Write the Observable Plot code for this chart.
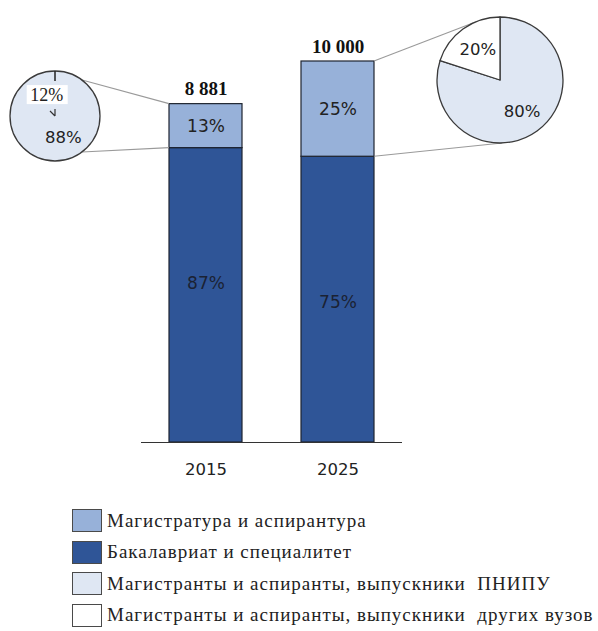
<!DOCTYPE html>
<html>
<head>
<meta charset="utf-8">
<script src="https://cdn.jsdelivr.net/npm/d3@7"></script>
<script src="https://cdn.jsdelivr.net/npm/@observablehq/plot@0.6"></script>
<style>
  body { margin: 0; background: #fff; }
  #chart svg { display: block; overflow: visible; }
  #legend { padding-top: 10px; }
  .row { display: flex; align-items: center; height: 31.5px; margin-left: 72px; }
  .sw { width: 30px; height: 23px; border: 1.5px solid #4a4a4a; box-sizing: border-box; margin-right: 5px; flex: none; }
  .lbl { font-family: "Liberation Serif", serif; font-size: 19px; letter-spacing: 1px; white-space: pre; color: #222; }
</style>
</head>
<body>
<div id="chart"></div>
<div id="legend"></div>
<script>
// ---- data ----
const years = ["2015", "2025"];
const totals = [8881, 10000];
const totalLabels = ["8 881", "10 000"];
const bachelorShare = [87, 75];
const masterShare = [13, 25];
const ownGradShare = [88, 80];     // выпускники ПНИПУ (pie)
const otherGradShare = [12, 20];   // выпускники других вузов (pie)
const parts = ["Бакалавриат и специалитет", "Магистратура и аспирантура"];
const legendLabels = [
  "Магистратура и аспирантура",
  "Бакалавриат и специалитет",
  "Магистранты и аспиранты, выпускники  ПНИПУ",
  "Магистранты и аспиранты, выпускники  других вузов"
];
const legendColors = ["#97b1d9", "#2f5597", "#dfe7f3", "#ffffff"];

const partColors = ["#2f5597", "#97b1d9"];
const pieColors = ["#dfe7f3", "#ffffff"];

const rows = years.flatMap((yr, i) => [
  {year: yr, part: parts[0], share: bachelorShare[i], value: totals[i] * bachelorShare[i] / 100},
  {year: yr, part: parts[1], share: masterShare[i], value: totals[i] * masterShare[i] / 100}
]);
const totalRows = years.map((yr, i) => ({year: yr, total: totals[i], label: totalLabels[i]}));

const sans = "DejaVu Sans, sans-serif";
const serif = "Liberation Serif, serif";

const plot = Plot.plot({
  width: 598,
  height: 495,
  marginTop: 61,
  marginBottom: 53,
  marginLeft: 141,
  marginRight: 196,
  style: {background: "#fff", color: "#222"},
  x: {type: "band", domain: years, paddingInner: 0.447, paddingOuter: 0.212, label: null},
  y: {domain: [0, 10000], axis: null},
  color: {domain: parts, range: partColors},
  marks: [
    Plot.barY(rows, {x: "year", y: "value", fill: "part", stroke: "#1e2430", strokeWidth: 1.2, inset: 0}),
    Plot.ruleY([0], {stroke: "#333", strokeWidth: 1.2}),
    Plot.axisX({tickSize: 0, tickPadding: 21, fontSize: 16.5, fontFamily: sans, label: null}),
    // upper segment labels
    Plot.text(rows, Plot.stackY({x: "year", y: "value", text: d => d.part === parts[1] ? d.share + "%" : "",
      fontSize: 17, fontFamily: sans, fill: "#222"})),
    // lower segment labels
    Plot.text(rows.filter(d => d.year === years[0]), Plot.stackY({x: "year", y: "value",
      text: d => d.part === parts[0] ? d.share + "%" : "", dy: -12, fontSize: 17, fontFamily: sans, fill: "#1b2233"})),
    Plot.text(rows.filter(d => d.year === years[1]), Plot.stackY({x: "year", y: "value",
      text: d => d.part === parts[0] ? d.share + "%" : "", dy: 3, fontSize: 17, fontFamily: sans, fill: "#1b2233"})),
    // totals
    Plot.text(totalRows, {x: "year", y: "total", text: "label", dy: -15, fontSize: 19, fontWeight: "bold", fontFamily: serif, fill: "#111"})
  ]
});
document.getElementById("chart").appendChild(plot);

// ---- pies (d3.pie / d3.arc) and connectors via Plot scales ----
const xs = plot.scale("x"), ys = plot.scale("y");
const bw = xs.bandwidth;
const svg = d3.select(plot);

const pieLayout = [
  {cx: 55, cy: 116, r: 45, labelR: 0.5, angTop: 37, angBot: 143, side: "left", showOther: false},
  {cx: 500, cy: 80, r: 63, labelR: 0.6, angTop: -21, angBot: 178, side: "right", showOther: true}
];

years.forEach((yr, i) => {
  const L = pieLayout[i];
  const xLeft = xs.apply(yr), xRight = xLeft + bw;
  const barX = L.side === "left" ? xLeft : xRight;
  const yTop = ys.apply(totals[i]);
  const ySplit = ys.apply(totals[i] * bachelorShare[i] / 100);
  const rad = a => a * Math.PI / 180;
  const pt = a => [L.cx + L.r * Math.sin(rad(a)), L.cy - L.r * Math.cos(rad(a))];
  const g = svg.append("g");
  // connectors
  [[pt(L.angTop), yTop], [pt(L.angBot), ySplit]].forEach(([p, yb]) => {
    g.append("line").attr("x1", p[0]).attr("y1", p[1]).attr("x2", barX).attr("y2", yb)
      .attr("stroke", "#9a9a9a").attr("stroke-width", 1.1);
  });
  const vals = [ownGradShare[i], otherGradShare[i]];
  const arcs = d3.pie().sort(null)(vals);
  const arc = d3.arc().innerRadius(0).outerRadius(L.r);
  const labelArc = d3.arc().innerRadius(L.r * L.labelR * 2 - 0.001).outerRadius(0);
  const pg = g.append("g").attr("transform", `translate(${L.cx},${L.cy})`);
  if (L.showOther) {
    pg.selectAll("path").data(arcs).join("path")
      .attr("d", arc).attr("fill", (d, j) => pieColors[j])
      .attr("stroke", "#3a3a3a").attr("stroke-width", 1.3).attr("stroke-linejoin", "round");
    pg.selectAll("text").data(arcs).join("text")
      .attr("transform", d => { const c = labelArc.centroid(d); return `translate(${c[0]},${c[1]})`; })
      .attr("text-anchor", "middle").attr("dy", "0.36em")
      .attr("font-family", sans).attr("font-size", 16.5).attr("fill", "#222")
      .text((d, j) => vals[j] + "%");
  } else {
    // small share shown only as a call-out, as in the source picture
    pg.append("path").attr("d", d3.arc().innerRadius(0).outerRadius(L.r)({startAngle: 0, endAngle: 2 * Math.PI}))
      .attr("fill", pieColors[0]).attr("stroke", "#3a3a3a").attr("stroke-width", 1.3);
    pg.append("line").attr("x1", 0).attr("y1", -L.r).attr("x2", 0).attr("y2", -L.r + 10)
      .attr("stroke", "#222").attr("stroke-width", 1.5);
    const cOwn = labelArc.centroid(arcs[0]);
    const cOther = labelArc.centroid(arcs[1]);
    pg.append("rect").attr("x", cOther[0] - 20).attr("y", cOther[1] - 10).attr("width", 41).attr("height", 19).attr("fill", "#fff");
    pg.append("text").attr("x", cOther[0]).attr("y", cOther[1]).attr("dy", "0.34em").attr("text-anchor", "middle")
      .attr("font-family", serif).attr("font-size", 18).attr("fill", "#222").text(vals[1] + "%");
    pg.append("path").attr("d", "M0,-7L0,0M-5,-5L0,0").attr("stroke", "#333").attr("stroke-width", 1.2).attr("fill", "none");
    pg.append("text").attr("x", cOwn[0]).attr("y", cOwn[1]).attr("dy", "0.36em").attr("text-anchor", "middle")
      .attr("font-family", sans).attr("font-size", 16.5).attr("fill", "#222").text(vals[0] + "%");
  }
});

// ---- legend ----
const legend = d3.select("#legend");
legendLabels.forEach((lab, i) => {
  const row = legend.append("div").attr("class", "row");
  row.append("div").attr("class", "sw").style("background", legendColors[i]);
  row.append("span").attr("class", "lbl").text(lab);
});
</script>
</body>
</html>
